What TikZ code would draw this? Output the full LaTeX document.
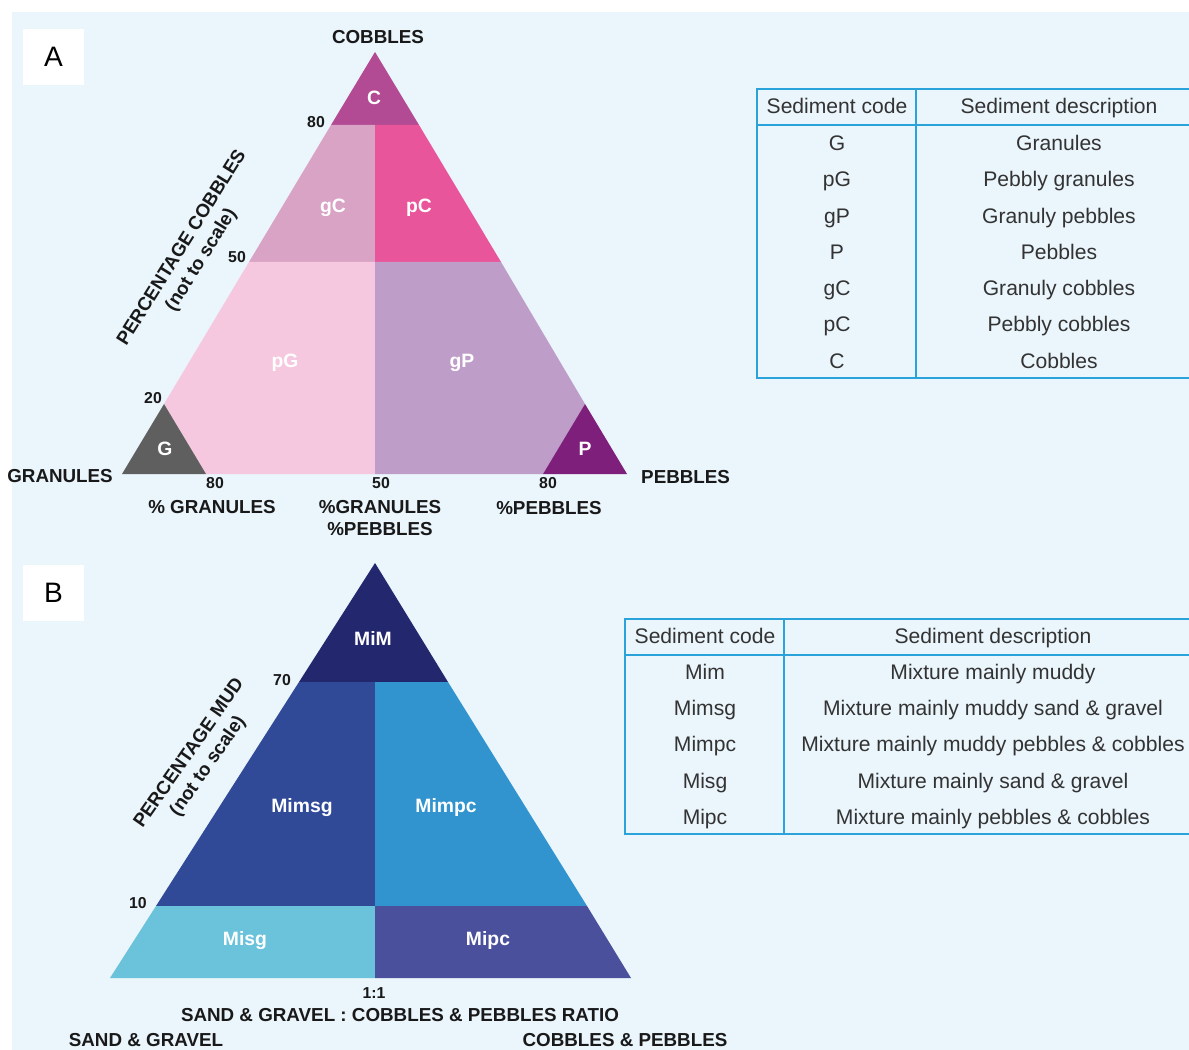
\documentclass[tikz,border=0pt]{standalone}
\usepackage{fontspec}
\setmainfont{Liberation Sans}

\definecolor{bgblue}{RGB}{234,245,252}
\definecolor{tabline}{RGB}{42,163,219}
\definecolor{colC}{RGB}{178,74,148}
\definecolor{colgC}{RGB}{217,163,198}
\definecolor{colpC}{RGB}{232,85,154}
\definecolor{colpG}{RGB}{246,200,223}
\definecolor{colgP}{RGB}{190,158,200}
\definecolor{colG}{RGB}{95,95,95}
\definecolor{colP}{RGB}{126,31,124}
\definecolor{colMiM}{RGB}{35,40,110}
\definecolor{colMimsg}{RGB}{48,74,152}
\definecolor{colMimpc}{RGB}{49,148,207}
\definecolor{colMisg}{RGB}{106,195,218}
\definecolor{colMipc}{RGB}{75,80,156}

\tikzset{
  zone/.style={font=\fontsize{11}{13}\selectfont\bfseries, text=white,
    text height=1.6ex, text depth=0.2ex},
  axislabel/.style={font=\fontsize{10.7}{13}\selectfont\bfseries, text=black!90},
  tick/.style={font=\fontsize{9}{11}\selectfont\bfseries, text=black!90},
  cell/.style={font=\fontsize{12}{14}\selectfont, text=black!80,
    text height=1.6ex, text depth=0.2ex},
  panel/.style={fill=white, minimum width=1.22cm, minimum height=1.12cm,
    inner sep=0pt, font=\fontsize{16}{18}\selectfont},
  tabrule/.style={draw=tabline, line width=1.2pt}
}

\begin{document}
\begin{tikzpicture}[x=0.02cm, y=-0.02cm]
\useasboundingbox (0,0) rectangle (1189,1050);
\fill[white] (0,0) rectangle (1189,1050);
\fill[bgblue] (12,12) rectangle (1189,1050);

% panel A: granules / pebbles / cobbles
\coordinate (Ct) at (375,52);
\coordinate (Gl) at (122,474);
\coordinate (Pr) at (627,474);
\coordinate (c80l) at (331,125);
\coordinate (c80m) at (375,125);
\coordinate (c80r) at (419,125);
\coordinate (c50l) at (249,262);
\coordinate (c50m) at (375,262);
\coordinate (c50r) at (501,262);
\coordinate (g20) at (164,404);
\coordinate (g80) at (206,474);
\coordinate (p20) at (585,404);
\coordinate (p80) at (543,474);
\coordinate (mid) at (375,474);

\fill[colC] (Ct) -- (c80l) -- (c80r) -- cycle;
\fill[colgC] (c80l) -- (c80m) -- (c50m) -- (c50l) -- cycle;
\fill[colpC] (c80m) -- (c80r) -- (c50r) -- (c50m) -- cycle;
\fill[colpG] (c50l) -- (c50m) -- (mid) -- (g80) -- (g20) -- cycle;
\fill[colgP] (c50m) -- (c50r) -- (p20) -- (p80) -- (mid) -- cycle;
\fill[colG] (Gl) -- (g20) -- (g80) -- cycle;
\fill[colP] (Pr) -- (p20) -- (p80) -- cycle;

\node[zone] (zC) at (374,98) {C};
\node[zone] (zgC) at (333,206) {gC};
\node[zone] (zpC) at (419,206) {pC};
\node[zone] (zpG) at (285,361) {pG};
\node[zone] (zgP) at (462,361) {gP};
\node[zone] (zG) at (165,449) {G};
\node[zone] (zP) at (585,449) {P};

\node[tick] (t80a) at (316,122) {80};
\node[tick] (t50a) at (237,257) {50};
\node[tick] (t20a) at (153,398) {20};
\node[tick] (b80a) at (215,483) {80};
\node[tick] (b50a) at (381,483) {50};
\node[tick] (b80b) at (548,483) {80};

\node[axislabel] (cob) at (378,37) {COBBLES};
\node[axislabel, anchor=east] (gra) at (119,476) {GRANULES};
\node[axislabel, anchor=west] (peb) at (635,477) {PEBBLES};
\node[axislabel] (pgra) at (212,507) {\% GRANULES};
\node[axislabel, align=center] (pmix) at (380,518) {\%GRANULES\\\%PEBBLES};
\node[axislabel] (ppeb) at (549,508) {\%PEBBLES};
\node[axislabel, rotate=58, align=center] (pcob) at (192,254)
  {PERCENTAGE COBBLES\\(not to scale)};

\node[panel] (panA) at (53.5,57) {A};

% table A
\draw[tabrule] (1189,89) -| (757,378) -- (1189,378);
\draw[tabrule] (757,125) -- (1189,125);
\draw[tabrule] (916,89) -- (916,378);
\node[cell] (hcodeA) at (837,107) {Sediment code};
\node[cell] (hdescA) at (1059,107) {Sediment description};
\foreach \code/\desc [count=\i from 0] in {G/Granules, pG/Pebbly granules,
    gP/Granuly pebbles, P/Pebbles, gC/Granuly cobbles, pC/Pebbly cobbles,
    C/Cobbles}
{
  \node[cell] (codeA\i) at (837,{144+36.3*\i}) {\code};
  \node[cell] (descA\i) at (1059,{144+36.3*\i}) {\desc};
}

% panel B: mud / sand & gravel / cobbles & pebbles
\coordinate (Mt) at (375,563);
\coordinate (Sl) at (110,978);
\coordinate (Cr) at (631,978);
\coordinate (m70l) at (299,682);
\coordinate (m70m) at (375,682);
\coordinate (m70r) at (448,682);
\coordinate (m10l) at (156,906);
\coordinate (m10m) at (375,906);
\coordinate (m10r) at (587,906);
\coordinate (mb) at (375,978);

\fill[colMiM] (Mt) -- (m70l) -- (m70r) -- cycle;
\fill[colMimsg] (m70l) -- (m70m) -- (m10m) -- (m10l) -- cycle;
\fill[colMimpc] (m70m) -- (m70r) -- (m10r) -- (m10m) -- cycle;
\fill[colMisg] (m10l) -- (m10m) -- (mb) -- (Sl) -- cycle;
\fill[colMipc] (m10m) -- (m10r) -- (Cr) -- (mb) -- cycle;

\node[zone] (zMiM) at (373,639) {MiM};
\node[zone] (zMimsg) at (302,806) {Mimsg};
\node[zone] (zMimpc) at (446,806) {Mimpc};
\node[zone] (zMisg) at (245,939) {Misg};
\node[zone] (zMipc) at (488,939) {Mipc};

\node[tick] (t70) at (282,680) {70};
\node[tick] (t10) at (138,903) {10};
\node[tick] (t11) at (374,993) {1:1};

\node[axislabel] (ratio) at (400,1015) {SAND \& GRAVEL : COBBLES \& PEBBLES RATIO};
\node[axislabel, inner ysep=1pt] (sg) at (146,1040) {SAND \& GRAVEL};
\node[axislabel, inner ysep=1pt] (cp) at (625,1040) {COBBLES \& PEBBLES};
\node[axislabel, rotate=55, align=center] (pmud) at (199,760)
  {PERCENTAGE MUD\\(not to scale)};

\node[panel] (panB) at (53.5,593) {B};

% table B
\draw[tabrule] (1189,619) -| (625,834) -- (1189,834);
\draw[tabrule] (625,655) -- (1189,655);
\draw[tabrule] (784,619) -- (784,834);
\node[cell] (hcodeB) at (705,637) {Sediment code};
\node[cell] (hdescB) at (993,637) {Sediment description};
\foreach \code/\desc [count=\i from 0] in {Mim/Mixture mainly muddy,
    Mimsg/Mixture mainly muddy sand \& gravel,
    Mimpc/Mixture mainly muddy pebbles \& cobbles,
    Misg/Mixture mainly sand \& gravel,
    Mipc/Mixture mainly pebbles \& cobbles}
{
  \node[cell] (codeB\i) at (705,{673+36.2*\i}) {\code};
  \node[cell] (descB\i) at (993,{673+36.2*\i}) {\desc};
}
\end{tikzpicture}
\end{document}
